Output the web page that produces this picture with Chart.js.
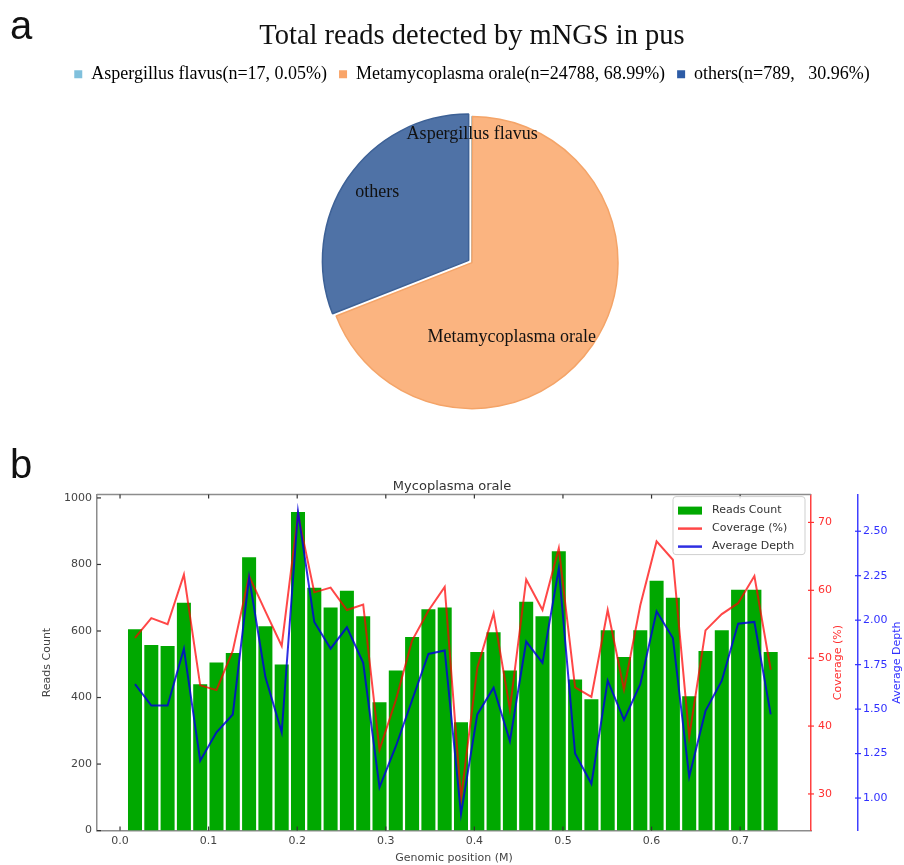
<!DOCTYPE html>
<html>
<head>
<meta charset="utf-8">
<title>mNGS reads</title>
<script src="https://cdn.jsdelivr.net/npm/chart.js@4.4.1/dist/chart.umd.min.js"></script>
<style>
  body { margin: 0; background: #fff; }
  #wrap { position: relative; width: 904px; height: 865px; overflow: hidden; }
  .box { position: absolute; left: 0; }
  .panel { position: absolute; left: 10px; font-family: 'Liberation Sans', Arial, sans-serif; font-size: 40px; line-height: 40px; color: #111; }
</style>
</head>
<body>
<div id="wrap">
  <div class="box" style="top:0"><canvas id="pieChart" width="904" height="440"></canvas></div>
  <div class="box" style="top:440px"><canvas id="covChart" width="904" height="425"></canvas></div>
  <div class="panel" style="top:5px">a</div>
  <div class="panel" style="top:444px">b</div>
</div>
<script>
// ---- panel a: reads per taxon ----
const pieLabels = ['Aspergillus flavus', 'Metamycoplasma orale', 'others'];
const piePercents = [0.05, 68.99, 30.96];
const pieLegend = ['Aspergillus flavus(n=17, 0.05%)', 'Metamycoplasma orale(n=24788, 68.99%)', 'others(n=789,   30.96%)'];

// ---- panel b: coverage along the genome ----
const positions = [0.0169, 0.0353, 0.0537, 0.0721, 0.0905, 0.1089, 0.1273, 0.1457, 0.1641, 0.1825,
                   0.2009, 0.2193, 0.2377, 0.2561, 0.2745, 0.2929, 0.3113, 0.3297, 0.3481, 0.3665,
                   0.3849, 0.4033, 0.4217, 0.4401, 0.4585, 0.4769, 0.4953, 0.5137, 0.5321, 0.5505,
                   0.5689, 0.5873, 0.6057, 0.6241, 0.6425, 0.6609, 0.6793, 0.6977, 0.7161, 0.7345];
const readsCount = [605, 558, 555, 685, 440, 505, 534, 822, 614, 499,
                    958, 730, 671, 721, 644, 386, 481, 582, 665, 671,
                    326, 537, 596, 481, 688, 644, 840, 454, 395, 602,
                    522, 602, 751, 700, 404, 540, 602, 724, 724, 537];
const coverage = [53.0, 55.9, 55.0, 62.3, 46.0, 45.3, 51.1, 62.1, 56.9, 51.8,
                  71.2, 59.7, 60.4, 57.1, 57.9, 36.5, 43.8, 52.6, 57.0, 60.5,
                  29.3, 48.6, 56.6, 42.5, 61.6, 57.1, 66.2, 45.7, 44.3, 57.1,
                  45.4, 57.8, 67.2, 64.5, 38.4, 54.1, 56.5, 58.1, 62.1, 48.3];
const avgDepth = [1.64, 1.52, 1.52, 1.84, 1.21, 1.37, 1.47, 2.24, 1.68, 1.37,
                  2.61, 1.99, 1.84, 1.96, 1.76, 1.06, 1.29, 1.55, 1.81, 1.83,
                  0.91, 1.47, 1.62, 1.32, 1.88, 1.76, 2.29, 1.25, 1.08, 1.66,
                  1.44, 1.64, 2.05, 1.90, 1.12, 1.49, 1.66, 1.98, 1.99, 1.47];
const xTicks = [0, 0.1, 0.2, 0.3, 0.4, 0.5, 0.6, 0.7];
const countTicks = [0, 200, 400, 600, 800, 1000];
const coverageTicks = [30, 40, 50, 60, 70];
const depthTicks = [1.0, 1.25, 1.5, 1.75, 2.0, 2.25, 2.5];

const serif = "'Liberation Serif', 'Times New Roman', serif";
const sans = "'DejaVu Sans', sans-serif";

// labels written on the slices, placed along each slice's mid angle
const sliceLabels = {
  id: 'sliceLabels',
  afterDatasetsDraw(chart, args, opts) {
    const ctx = chart.ctx;
    const arcs = chart.getDatasetMeta(0).data;
    ctx.save();
    ctx.font = opts.font;
    ctx.fillStyle = opts.color;
    ctx.textAlign = 'center';
    ctx.textBaseline = 'middle';
    arcs.forEach((arc, i) => {
      const p = opts.place[i];
      const a = (arc.startAngle + arc.endAngle) / 2 + p.shift * Math.PI / 180;
      const r = arc.outerRadius * p.dist;
      ctx.fillText(chart.data.labels[i], arc.x + Math.cos(a) * r, arc.y + Math.sin(a) * r);
    });
    ctx.restore();
  }
};

new Chart(document.getElementById('pieChart'), {
  type: 'pie',
  data: {
    labels: pieLabels,
    datasets: [{
      data: piePercents,
      backgroundColor: ['#8cc4dc', '#fbb480', '#4f72a6'],
      borderColor: ['#7ab4d0', '#f4a468', '#3d6196'],
      borderWidth: 1.5,
      offset: [0, 0, 16]
    }]
  },
  options: {
    responsive: false,
    animation: false,
    events: [],
    radius: 146,
    layout: { padding: { left: 40, right: 0, top: 0, bottom: 8 } },
    plugins: {
      title: {
        display: true,
        text: 'Total reads detected by mNGS in pus',
        font: { family: serif, size: 28.5, weight: 'normal' },
        color: '#111',
        padding: { top: 19, bottom: 0 }
      },
      legend: {
        labels: {
          font: { family: serif, size: 18 },
          color: '#222',
          boxWidth: 8,
          boxHeight: 8,
          padding: 12,
          generateLabels: () => pieLegend.map((text, i) => ({
            text,
            fillStyle: ['#80c0dc', '#f9a468', '#2d5ca6'][i],
            strokeStyle: 'rgba(0,0,0,0)',
            lineWidth: 0,
            hidden: false,
            index: i
          }))
        }
      },
      tooltip: { enabled: false },
      sliceLabels: {
        font: '18px ' + serif,
        color: '#111',
        place: [{ dist: 0.88, shift: 0 }, { dist: 0.58, shift: 27.6 }, { dist: 0.81, shift: 2.5 }]
      }
    }
  },
  plugins: [sliceLabels]
});

// spines, inward ticks, right-hand axis titles and the in-plot legend
const frame = {
  id: 'frame',
  afterDraw(chart) {
    const { ctx, chartArea: a, scales } = chart;
    const seg = (x1, y1, x2, y2) => { ctx.beginPath(); ctx.moveTo(x1, y1); ctx.lineTo(x2, y2); ctx.stroke(); };
    ctx.save();
    ctx.strokeStyle = '#8c8c8c';
    ctx.lineWidth = 1.5;
    seg(a.left, a.top, a.right, a.top);
    ctx.lineWidth = 1.2;
    ctx.strokeStyle = '#333';
    scales.x.ticks.forEach(t => {
      const px = scales.x.getPixelForValue(t.value);
      seg(px, a.bottom, px, a.bottom - 4);
      seg(px, a.top, px, a.top + 4);
    });
    scales.y.ticks.forEach(t => {
      const py = scales.y.getPixelForValue(t.value);
      seg(a.left, py, a.left + 4, py);
    });
    ctx.strokeStyle = '#ff3030';
    scales.yCov.ticks.forEach(t => {
      const py = scales.yCov.getPixelForValue(t.value);
      seg(scales.yCov.left - 3, py, scales.yCov.left + 3, py);
    });
    ctx.strokeStyle = '#3030ff';
    scales.yDepth.ticks.forEach(t => {
      const py = scales.yDepth.getPixelForValue(t.value);
      seg(scales.yDepth.left - 3, py, scales.yDepth.left + 3, py);
    });

    // rotated titles, reading bottom to top
    ctx.font = '11px ' + sans;
    ctx.textAlign = 'center';
    ctx.textBaseline = 'middle';
    const cy = (a.top + a.bottom) / 2;
    [['yCov', 'Coverage (%)', '#ff3030', 27], ['yDepth', 'Average Depth', '#3030ff', 39]].forEach(([id, text, color, dx]) => {
      ctx.save();
      ctx.translate(scales[id].left + dx, cy);
      ctx.rotate(-Math.PI / 2);
      ctx.fillStyle = color;
      ctx.fillText(text, 0, 0);
      ctx.restore();
    });

    // legend box
    const bx = a.right - 138, by = a.top + 2, bw = 132, bh = 58;
    ctx.fillStyle = 'rgba(255,255,255,0.85)';
    ctx.strokeStyle = '#cfcfcf';
    ctx.lineWidth = 1;
    ctx.beginPath();
    ctx.roundRect(bx, by, bw, bh, 3);
    ctx.fill();
    ctx.stroke();
    ctx.textAlign = 'left';
    chart.data.datasets.forEach((ds, i) => {
      const y = by + 14 + i * 18;
      if (ds.type === 'line') {
        ctx.strokeStyle = ds.borderColor;
        ctx.lineWidth = 2.5;
        seg(bx + 5, y, bx + 29, y);
      } else {
        ctx.fillStyle = ds.backgroundColor;
        ctx.fillRect(bx + 5, y - 4, 24, 8);
      }
      ctx.fillStyle = '#333';
      ctx.fillText(ds.label, bx + 39, y);
    });
    ctx.restore();
  }
};

const fixWidth = w => scale => { scale.width = w; };
const setTicks = values => scale => { scale.ticks = values.map(v => ({ value: v })); };

new Chart(document.getElementById('covChart'), {
  type: 'bar',
  data: {
    datasets: [
      {
        label: 'Reads Count',
        data: positions.map((x, i) => ({ x, y: readsCount[i] })),
        backgroundColor: '#00a800',
        barPercentage: 0.86,
        categoryPercentage: 1,
        yAxisID: 'y',
        order: 3
      },
      {
        type: 'line',
        label: 'Coverage (%)',
        data: positions.map((x, i) => ({ x, y: coverage[i] })),
        borderColor: 'rgba(255,0,0,0.72)',
        borderWidth: 2,
        pointRadius: 0,
        tension: 0,
        yAxisID: 'yCov',
        order: 2
      },
      {
        type: 'line',
        label: 'Average Depth',
        data: positions.map((x, i) => ({ x, y: avgDepth[i] })),
        borderColor: 'rgba(0,0,220,0.82)',
        borderWidth: 2,
        pointRadius: 0,
        tension: 0,
        yAxisID: 'yDepth',
        order: 1
      }
    ]
  },
  options: {
    responsive: false,
    animation: false,
    events: [],
    layout: { padding: 0 },
    scales: {
      x: {
        type: 'linear',
        offset: false,
        min: -0.026,
        max: 0.78,
        afterBuildTicks: setTicks(xTicks),
        grid: { display: false, drawTicks: false },
        border: { display: true, color: '#8c8c8c', width: 1.5 },
        ticks: { font: { family: sans, size: 11 }, color: '#444', padding: 4, callback: v => v.toFixed(1) },
        title: { display: true, text: 'Genomic position (M)', font: { family: sans, size: 11 }, color: '#444', padding: { top: 0, bottom: 0 } }
      },
      y: {
        position: 'left',
        min: 0,
        max: 1010,
        afterBuildTicks: setTicks(countTicks),
        afterFit: fixWidth(97),
        grid: { display: false, drawTicks: false },
        border: { display: true, color: '#8c8c8c', width: 1.5 },
        ticks: { font: { family: sans, size: 11 }, color: '#444', padding: 5, callback: v => String(v) },
        title: { display: true, text: 'Reads Count', font: { family: sans, size: 11 }, color: '#444', padding: { top: 41, bottom: 0 } }
      },
      yCov: {
        position: 'right',
        min: 24.6,
        max: 74.1,
        afterBuildTicks: setTicks(coverageTicks),
        afterFit: fixWidth(47),
        grid: { display: false, drawTicks: false },
        border: { display: true, color: '#ff4040', width: 1.5 },
        ticks: { font: { family: sans, size: 11 }, color: '#ff3030', padding: 7 }
      },
      yDepth: {
        position: 'right',
        min: 0.817,
        max: 2.706,
        afterBuildTicks: setTicks(depthTicks),
        afterFit: fixWidth(46),
        grid: { display: false, drawTicks: false },
        border: { display: true, color: '#4040ff', width: 1.5 },
        ticks: { font: { family: sans, size: 11 }, color: '#3030ff', padding: 5, callback: v => v.toFixed(2) }
      }
    },
    plugins: {
      legend: { display: false },
      tooltip: { enabled: false },
      title: {
        display: true,
        text: 'Mycoplasma orale',
        font: { family: sans, size: 13, weight: 'normal' },
        color: '#333',
        padding: { top: 39, bottom: 0 }
      }
    }
  },
  plugins: [frame]
});
</script>
</body>
</html>
